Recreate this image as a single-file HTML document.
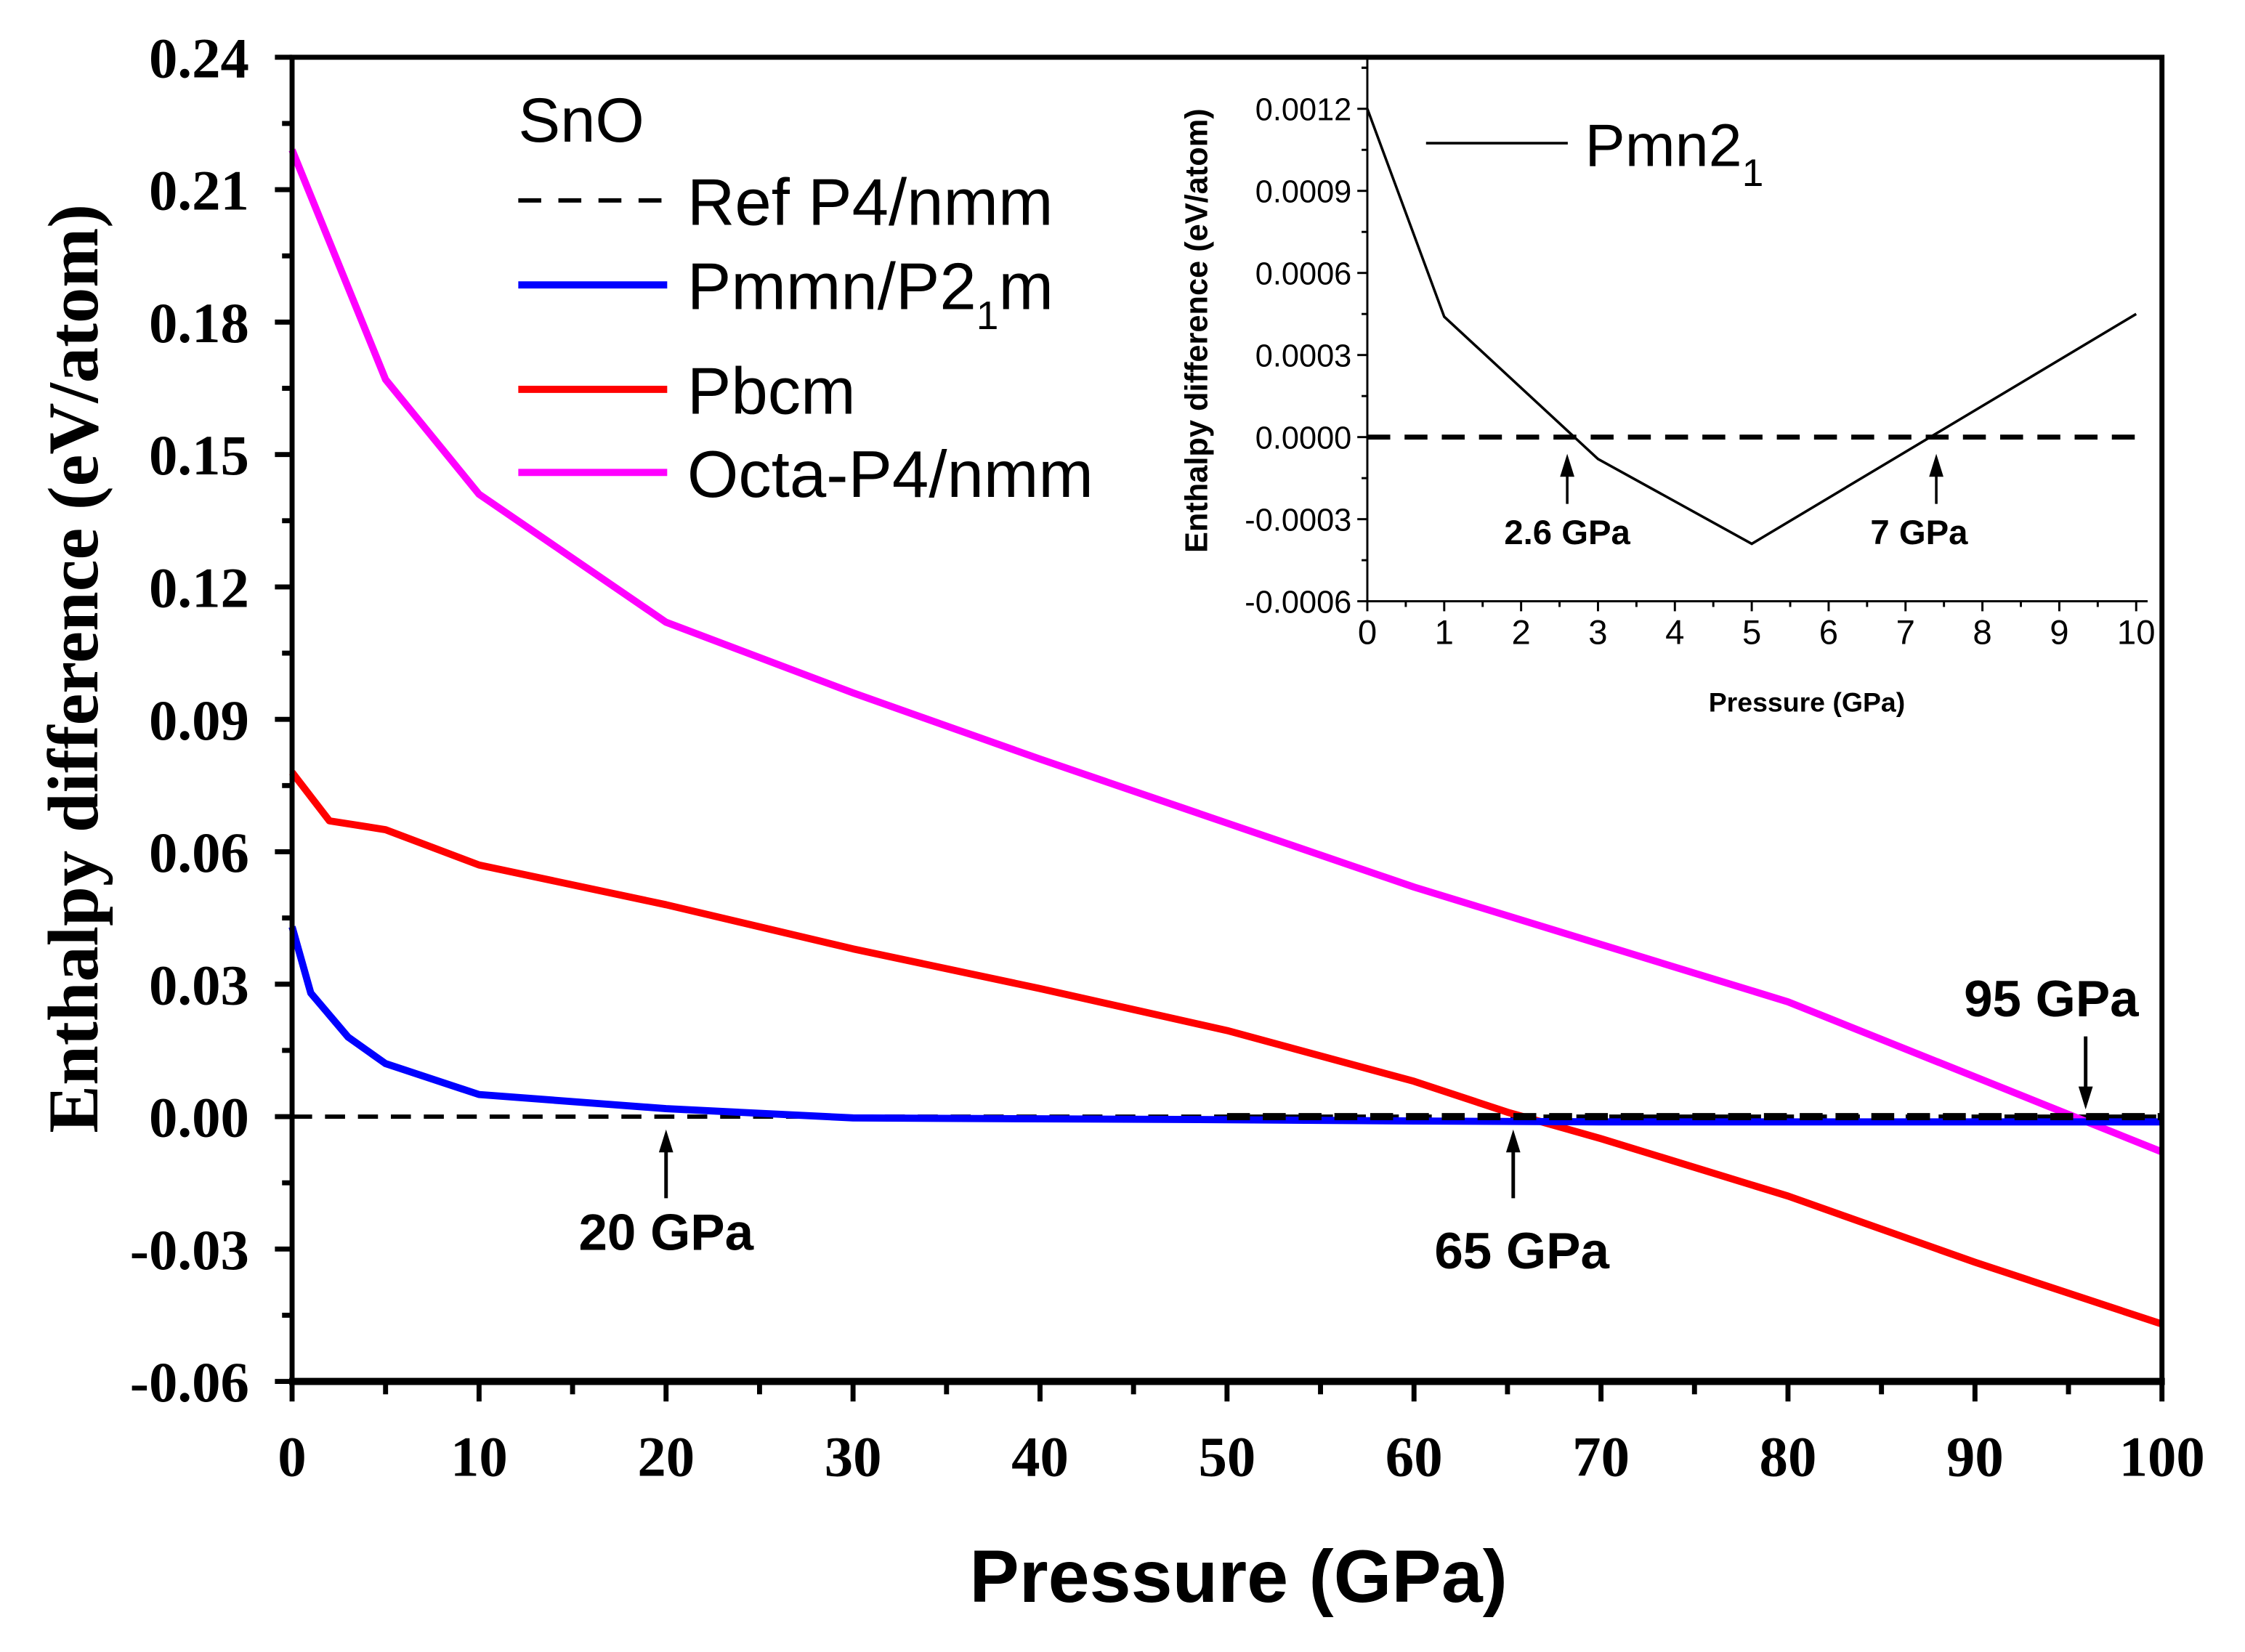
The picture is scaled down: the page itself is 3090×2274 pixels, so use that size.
<!DOCTYPE html>
<html><head><meta charset="utf-8"><style>
html,body{margin:0;padding:0;background:#fff;}
svg{display:block;}
</style></head><body>
<svg id="chart" width="3090" height="2274" viewBox="0 0 1568 1154" preserveAspectRatio="none" xmlns="http://www.w3.org/2000/svg">
<rect x="0" y="0" width="1568" height="1154" fill="#fff"/>
<g id="main"></g>
<g id="inset"></g>
</svg>
<script>
// main chart data
const mainXTicks = [0,10,20,30,40,50,60,70,80,90,100];
const mainYTicks = [-0.06,-0.03,0.00,0.03,0.06,0.09,0.12,0.15,0.18,0.21,0.24];
const mainYTickLabels = ["-0.06","-0.03","0.00","0.03","0.06","0.09","0.12","0.15","0.18","0.21","0.24"];
const octaP = [0,5,10,20,30,40,50,60,70,80,100];
const octaH = [0.219,0.167,0.141,0.112,0.096,0.081,0.0665,0.052,0.039,0.026,-0.008];
const pbcmP = [0,2,5,10,20,30,40,50,60,65,70,80,90,100];
const pbcmH = [0.078,0.067,0.065,0.057,0.048,0.038,0.029,0.0195,0.008,0.001,-0.005,-0.018,-0.033,-0.047];
const pmmnP = [0,1,2,3,5,10,20,30,40,50,60,70,80,90,100];
const pmmnH = [0.043,0.028,0.023,0.018,0.012,0.005,0.0018,-0.0003,-0.0005,-0.0007,-0.001,-0.0012,-0.0012,-0.0012,-0.0012];
const annP = [20,65,95];
const annLabels = ["20 GPa","65 GPa","95 GPa"];
// inset data
const insXTicks = [0,1,2,3,4,5,6,7,8,9,10];
const insYTicks = [-0.0006,-0.0003,0,0.0003,0.0006,0.0009,0.0012];
const insYTickLabels = ["-0.0006","-0.0003","0.0000","0.0003","0.0006","0.0009","0.0012"];
const pmn21P = [0,1,3,5,10];
const pmn21H = [0.0012,0.00044,-0.00008,-0.00039,0.00045];
const insAnnP = [2.6,7.4];
const insAnnLabels = ["2.6 GPa","7 GPa"];

const NS="http://www.w3.org/2000/svg";
function mk(tag,attrs,parent,text){const e=document.createElementNS(NS,tag);for(const k in attrs)e.setAttribute(k,attrs[k]);if(text!==undefined)e.textContent=text;parent.appendChild(e);return e;}

const L=204,R=1510,T=40,B=965;
const xS=p=>L+(p-0)/(100-0)*(R-L);
const yS=v=>B-(v-(-0.06))/(0.24-(-0.06))*(B-T);
const g=document.getElementById('main');
const serif='"Liberation Serif", serif', sans='"Liberation Sans", sans-serif';

function path(ps,hs,xf,yf){return ps.map((p,i)=>(i?'L':'M')+xf(p).toFixed(2)+','+yf(hs[i]).toFixed(2)).join(' ');}

let e=mk('line',{x1:xS(0),y1:yS(0),x2:xS(100),y2:yS(0),stroke:'#000','stroke-width':3,'stroke-dasharray':'14,9'},g);


e=mk('path',{d:path(octaP,octaH,xS,yS),fill:'none',stroke:'#ff00ff','stroke-width':5,'stroke-linejoin':'round'},g);


e=mk('path',{d:path(pbcmP,pbcmH,xS,yS),fill:'none',stroke:'#ff0000','stroke-width':5,'stroke-linejoin':'round'},g);


e=mk('path',{d:path(pmmnP,pmmnH,xS,yS),fill:'none',stroke:'#0000ff','stroke-width':5,'stroke-linejoin':'round'},g);


e=mk('line',{x1:xS(50),y1:yS(0),x2:xS(100),y2:yS(0),stroke:'#000','stroke-width':5,'stroke-dasharray':'16,9'},g);



e=mk('rect',{x:L,y:T,width:R-L,height:B-T,fill:'none',stroke:'#000','stroke-width':3.5},g);


mk('line',{x1:L-2,y1:B,x2:R+2,y2:B,stroke:'#000','stroke-width':5},g);
mainYTicks.forEach((v,i)=>{
  mk('line',{x1:L-12,y1:yS(v),x2:L,y2:yS(v),stroke:'#000','stroke-width':3.5},g);
  if(i<mainYTicks.length-1){const m=(v+mainYTicks[i+1])/2;mk('line',{x1:L-7,y1:yS(m),x2:L,y2:yS(m),stroke:'#000','stroke-width':3.5},g);}
  const t=mk('text',{x:L-30,y:yS(v)+14,'text-anchor':'end','font-family':serif,'font-weight':'bold','font-size':40},g,mainYTickLabels[i]);
  
  
});
mainXTicks.forEach((p,i)=>{
  mk('line',{x1:xS(p),y1:B,x2:xS(p),y2:B+14,stroke:'#000','stroke-width':3.5},g);
  if(i<mainXTicks.length-1){const m=(p+mainXTicks[i+1])/2;mk('line',{x1:xS(m),y1:B,x2:xS(m),y2:B+9,stroke:'#000','stroke-width':3.5},g);}
  const t=mk('text',{x:xS(p),y:1031,'text-anchor':'middle','font-family':serif,'font-weight':'bold','font-size':40},g,String(p));
  
  
});
e=mk('text',{x:865,y:1119,'text-anchor':'middle','font-family':sans,'font-weight':'bold','font-size':52},g,'Pressure (GPa)');


e=mk('text',{x:0,y:0,transform:'translate(68,467) rotate(-90)','text-anchor':'middle','font-family':serif,'font-weight':'bold','font-size':50},g,'Enthalpy difference  (eV/atom)');



function arrow(par,x,y1,y2,w){
  mk('line',{x1:x,y1:y1,x2:x,y2:y2+(y2<y1?10:-10),stroke:'#000','stroke-width':w},par);
  const d=y2<y1?1:-1;
  mk('path',{d:`M${x},${y2} L${x-5},${y2+d*16} L${x+5},${y2+d*16} Z`,fill:'#000'},par);
}
arrow(g,xS(annP[0]),837,789,2.5);
e=mk('text',{x:xS(annP[0]),y:873,'text-anchor':'middle','font-family':sans,'font-weight':'bold','font-size':36},g,annLabels[0]);


arrow(g,xS(annP[1])+4,837,789,2.5);
e=mk('text',{x:xS(annP[1])+10,y:886,'text-anchor':'middle','font-family':sans,'font-weight':'bold','font-size':36},g,annLabels[1]);


arrow(g,xS(annP[2])+12,724,775,2.5);
e=mk('text',{x:xS(annP[2])-12,y:710,'text-anchor':'middle','font-family':sans,'font-weight':'bold','font-size':36},g,annLabels[2]);



const lg=mk('g',{},g);


mk('text',{x:362,y:99,'font-family':sans,'font-size':44},lg,'SnO');
mk('line',{x1:362,y1:140,x2:464,y2:140,stroke:'#000','stroke-width':3,'stroke-dasharray':'16,12'},lg);
mk('text',{x:480,y:157,'font-family':sans,'font-size':46},lg,'Ref P4/nmm');
mk('line',{x1:362,y1:199,x2:466,y2:199,stroke:'#0000ff','stroke-width':5},lg);
const t2=mk('text',{x:480,y:216,'font-family':sans,'font-size':46},lg,'Pmmn/P2');
mk('tspan',{'font-size':28,dy:14},t2,'1');
mk('tspan',{'font-size':46,dy:-14},t2,'m');
mk('line',{x1:362,y1:272,x2:466,y2:272,stroke:'#ff0000','stroke-width':5},lg);
mk('text',{x:480,y:289,'font-family':sans,'font-size':46},lg,'Pbcm');
mk('line',{x1:362,y1:330,x2:466,y2:330,stroke:'#ff00ff','stroke-width':5},lg);
mk('text',{x:480,y:347,'font-family':sans,'font-size':46},lg,'Octa-P4/nmm');

const iL=955,iR=1492,iT=41,iB=420;
const ixS=p=>iL+p/10*(iR-iL);
const iyS=v=>iB-(v-(-0.0006))/(0.0012-(-0.0006))*(420-76);
const ig=document.getElementById('inset');


e=mk('line',{x1:iL,y1:iyS(0),x2:iR+5,y2:iyS(0),stroke:'#000','stroke-width':3.5,'stroke-dasharray':'16,10'},ig);


e=mk('path',{d:path(pmn21P,pmn21H,ixS,iyS),fill:'none',stroke:'#000','stroke-width':1.8},ig);


mk('line',{x1:iL,y1:iT,x2:iL,y2:iB,stroke:'#000','stroke-width':1.5},ig);
mk('line',{x1:iL,y1:iB,x2:iR+8,y2:iB,stroke:'#000','stroke-width':1.5},ig);
insYTicks.forEach((v,i)=>{
  mk('line',{x1:iL-7,y1:iyS(v),x2:iL,y2:iyS(v),stroke:'#000','stroke-width':1.5},ig);
  const m=v+0.00015; if(iyS(m)>iT) mk('line',{x1:iL-4,y1:iyS(m),x2:iL,y2:iyS(m),stroke:'#000','stroke-width':1.5},ig);
  const t=mk('text',{x:iL-11,y:iyS(v)+8,'text-anchor':'end','font-family':sans,'font-size':22},ig,insYTickLabels[i]);
  
  
});
mk('line',{x1:iL-4,y1:iyS(0.00135),x2:iL,y2:iyS(0.00135),stroke:'#000','stroke-width':1.5},ig);
insXTicks.forEach((p,i)=>{
  mk('line',{x1:ixS(p),y1:iB,x2:ixS(p),y2:iB+7,stroke:'#000','stroke-width':1.5},ig);
  if(i<insXTicks.length-1) mk('line',{x1:ixS(p+0.5),y1:iB,x2:ixS(p+0.5),y2:iB+4,stroke:'#000','stroke-width':1.5},ig);
  const t=mk('text',{x:ixS(p),y:450,'text-anchor':'middle','font-family':sans,'font-size':24},ig,String(p));
  
  
});
e=mk('text',{x:1262,y:497,'text-anchor':'middle','font-family':sans,'font-weight':'bold','font-size':19},ig,'Pressure (GPa)');


e=mk('text',{x:0,y:0,transform:'translate(843,231) rotate(-90)','text-anchor':'middle','font-family':sans,'font-weight':'bold','font-size':22},ig,'Enthalpy difference  (eV/atom)');


mk('line',{x1:996,y1:100,x2:1095,y2:100,stroke:'#000','stroke-width':1.8},ig);
e=mk('text',{x:1107,y:116,'font-family':sans,'font-size':42},ig,'Pmn2');
mk('tspan',{'font-size':27,dy:14},e,'1');


arrow(ig,ixS(insAnnP[0]),352,317,1.8);
e=mk('text',{x:ixS(insAnnP[0]),y:380,'text-anchor':'middle','font-family':sans,'font-weight':'bold','font-size':24},ig,insAnnLabels[0]);


arrow(ig,ixS(insAnnP[1]),352,317,1.8);
e=mk('text',{x:ixS(insAnnP[1])-12,y:380,'text-anchor':'middle','font-family':sans,'font-weight':'bold','font-size':24},ig,insAnnLabels[1]);


</script>
</body></html>
